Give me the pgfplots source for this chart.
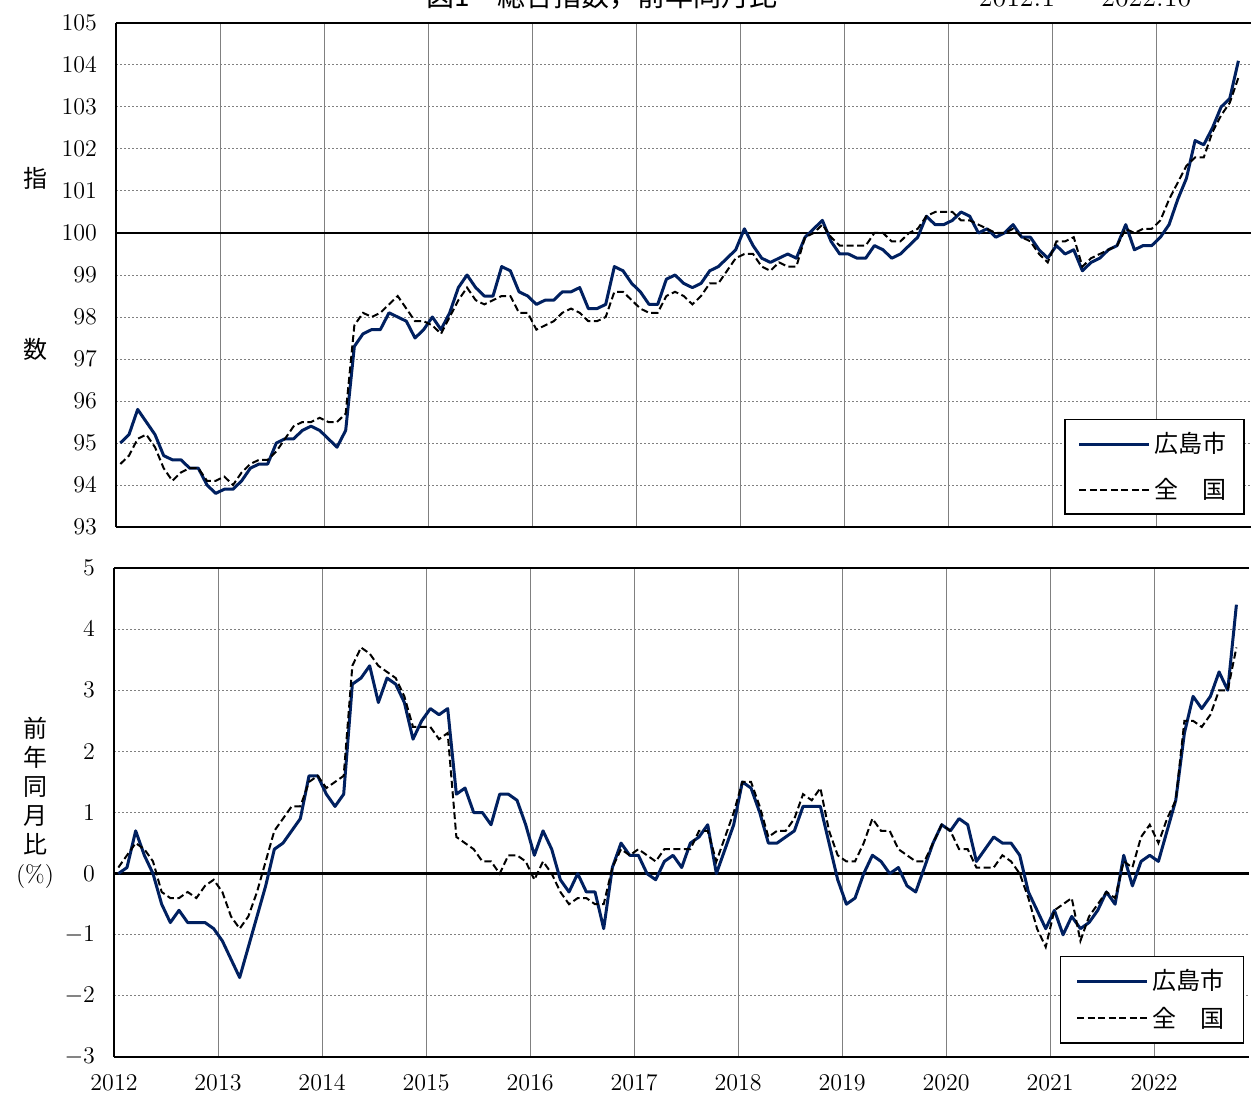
\documentclass[border=0pt]{standalone}
\usepackage{fontspec}
\usepackage{pgfplots}
\usepackage{pgfplotstable}
\pgfplotsset{compat=1.18}
\newfontfamily\jp{Noto Sans CJK JP}
\definecolor{hiro}{HTML}{002060}

% m: month index from 2012.1; hiI/jpI: index (2020=100); hiY/jpY: yoy %
\pgfplotstableread{
m hiI jpI hiY jpY
0 95.0 94.5 0.0 0.1
1 95.2 94.7 0.1 0.3
2 95.8 95.1 0.7 0.5
3 95.5 95.2 0.3 0.4
4 95.2 94.9 0.0 0.2
5 94.7 94.4 -0.5 -0.3
6 94.6 94.1 -0.8 -0.4
7 94.6 94.3 -0.6 -0.4
8 94.4 94.4 -0.8 -0.3
9 94.4 94.4 -0.8 -0.4
10 94.0 94.1 -0.8 -0.2
11 93.8 94.1 -0.9 -0.1
12 93.9 94.2 -1.1 -0.3
13 93.9 94.0 -1.4 -0.7
14 94.1 94.3 -1.7 -0.9
15 94.4 94.5 -1.2 -0.7
16 94.5 94.6 -0.7 -0.3
17 94.5 94.6 -0.2 0.2
18 95.0 94.8 0.4 0.7
19 95.1 95.1 0.5 0.9
20 95.1 95.4 0.7 1.1
21 95.3 95.5 0.9 1.1
22 95.4 95.5 1.6 1.5
23 95.3 95.6 1.6 1.6
24 95.1 95.5 1.3 1.4
25 94.9 95.5 1.1 1.5
26 95.3 95.7 1.3 1.6
27 97.3 97.8 3.1 3.4
28 97.6 98.1 3.2 3.7
29 97.7 98.0 3.4 3.6
30 97.7 98.1 2.8 3.4
31 98.1 98.3 3.2 3.3
32 98.0 98.5 3.1 3.2
33 97.9 98.2 2.8 2.9
34 97.5 97.9 2.2 2.4
35 97.7 97.9 2.5 2.4
36 98.0 97.8 2.7 2.4
37 97.7 97.6 2.6 2.2
38 98.1 98.0 2.7 2.3
39 98.7 98.4 1.3 0.6
40 99.0 98.7 1.4 0.5
41 98.7 98.4 1.0 0.4
42 98.5 98.3 1.0 0.2
43 98.5 98.4 0.8 0.2
44 99.2 98.5 1.3 0.0
45 99.1 98.5 1.3 0.3
46 98.6 98.1 1.2 0.3
47 98.5 98.1 0.8 0.2
48 98.3 97.7 0.3 -0.1
49 98.4 97.8 0.7 0.2
50 98.4 97.9 0.4 0.0
51 98.6 98.1 -0.1 -0.3
52 98.6 98.2 -0.3 -0.5
53 98.7 98.1 0.0 -0.4
54 98.2 97.9 -0.3 -0.4
55 98.2 97.9 -0.3 -0.5
56 98.3 98.0 -0.9 -0.5
57 99.2 98.6 0.1 0.1
58 99.1 98.6 0.5 0.4
59 98.8 98.4 0.3 0.3
60 98.6 98.2 0.3 0.4
61 98.3 98.1 0.0 0.3
62 98.3 98.1 -0.1 0.2
63 98.9 98.5 0.2 0.4
64 99.0 98.6 0.3 0.4
65 98.8 98.5 0.1 0.4
66 98.7 98.3 0.5 0.4
67 98.8 98.5 0.6 0.7
68 99.1 98.8 0.8 0.7
69 99.2 98.8 0.0 0.2
70 99.4 99.1 0.4 0.6
71 99.6 99.4 0.8 1.0
72 100.1 99.5 1.5 1.5
73 99.7 99.5 1.4 1.5
74 99.4 99.2 1.0 1.1
75 99.3 99.1 0.5 0.6
76 99.4 99.3 0.5 0.7
77 99.5 99.2 0.6 0.7
78 99.4 99.2 0.7 0.9
79 99.9 99.9 1.1 1.3
80 100.1 100.0 1.1 1.2
81 100.3 100.2 1.1 1.4
82 99.8 99.9 0.5 0.7
83 99.5 99.7 -0.1 0.3
84 99.5 99.7 -0.5 0.2
85 99.4 99.7 -0.4 0.2
86 99.4 99.7 0.0 0.5
87 99.7 100.0 0.3 0.9
88 99.6 100.0 0.2 0.7
89 99.4 99.8 0.0 0.7
90 99.5 99.8 0.1 0.4
91 99.7 100.0 -0.2 0.3
92 99.9 100.1 -0.3 0.2
93 100.4 100.4 0.1 0.2
94 100.2 100.5 0.5 0.5
95 100.2 100.5 0.8 0.8
96 100.3 100.5 0.7 0.7
97 100.5 100.3 0.9 0.4
98 100.4 100.3 0.8 0.4
99 100.0 100.2 0.2 0.1
100 100.1 100.1 0.4 0.1
101 99.9 100.0 0.6 0.1
102 100.0 100.0 0.5 0.3
103 100.2 100.1 0.5 0.2
104 99.9 99.9 0.3 0.0
105 99.9 99.8 -0.3 -0.4
106 99.6 99.5 -0.6 -0.9
107 99.4 99.3 -0.9 -1.2
108 99.7 99.8 -0.6 -0.6
109 99.5 99.8 -1.0 -0.5
110 99.6 99.9 -0.7 -0.4
111 99.1 99.2 -0.9 -1.1
112 99.3 99.4 -0.8 -0.7
113 99.4 99.5 -0.6 -0.5
114 99.6 99.6 -0.3 -0.3
115 99.7 99.7 -0.5 -0.4
116 100.2 100.1 0.3 0.2
117 99.6 100.0 -0.2 0.1
118 99.7 100.1 0.2 0.6
119 99.7 100.1 0.3 0.8
120 99.9 100.3 0.2 0.5
121 100.2 100.8 0.7 0.9
122 100.8 101.2 1.2 1.2
123 101.3 101.6 2.3 2.5
124 102.2 101.8 2.9 2.5
125 102.1 101.8 2.7 2.4
126 102.5 102.4 2.9 2.6
127 103.0 102.8 3.3 3.0
128 103.2 103.1 3.0 3.0
129 104.1 103.7 4.4 3.7
}\cpi

\pgfplotsset{
  panel/.style={
    scale only axis, width=567.7pt,
    xmin=0, xmax=131,
    axis x line*=box, axis y line*=left,
    x axis line style={-}, y axis line style={-},
    axis line style={line width=1.2pt},
    xtick={0,12,...,120},
    major tick length=0pt,
    grid=major,
    major x grid style={gray, line width=0.5pt},
    major y grid style={gray, line width=0.5pt, dash pattern=on 1pt off 1pt},
    tick label style={font=\fontsize{12}{14}\selectfont},
    yticklabel style={xshift=-6pt},
    legend cell align=left,
    legend image code/.code={\draw[##1] (0pt,0pt) -- (35pt,0pt);},
    legend style={draw=black, line width=0.8pt, fill=white,
      font=\jp\fontsize{12}{14}\selectfont, row sep=7pt,
      inner xsep=6.5pt, inner ysep=4.5pt},
  },
  hi/.style={draw=hiro, line width=1.5pt, line join=round, no marks},
  jpn/.style={draw=black, line width=1pt, dash pattern=on 3.5pt off 1.75pt, no marks},
}

\begin{document}
\begin{tikzpicture}
\begin{axis}[panel,
  at={(58pt,283.5pt)}, anchor=south west, height=252pt,
  ymin=93, ymax=105, ytick={93,...,105},
  xticklabels={},
  extra y ticks={100}, extra y tick labels={},
  extra y tick style={major y grid style={black, line width=1.2pt, solid}},
  legend style={at={(0.994,0.024)}, anchor=south east},
]
\addplot[hi] table[x expr=\coordindex+0.5, y=hiI] {\cpi};
\addplot[jpn] table[x expr=\coordindex+0.5, y=jpI] {\cpi};
\legend{広島市, 全　国}
\end{axis}

\begin{axis}[panel,
  at={(57pt,18.5pt)}, anchor=south west, height=244.5pt,
  ymin=-3, ymax=5, ytick={-3,...,5},
  xticklabels={2012,2013,2014,2015,2016,2017,2018,2019,2020,2021,2022},
  xticklabel style={yshift=-5pt},
  extra y ticks={0}, extra y tick labels={},
  extra y tick style={major y grid style={black, line width=1.2pt, solid}},
  legend style={at={(0.9956,0.027)}, anchor=south east,
    row sep=3pt, inner xsep=7.5pt},
]
\addplot[hi] table[x expr=\coordindex+0.5, y=hiY] {\cpi};
\addplot[jpn] table[x expr=\coordindex+0.5, y=jpY] {\cpi};
\legend{広島市, 全　国}
\end{axis}

% axis titles
\node[font=\jp\fontsize{12}{14}\selectfont] at (17.5pt,458pt) {指};
\node[font=\jp\fontsize{12}{14}\selectfont] at (17.5pt,372.5pt) {数};
\node[font=\jp\fontsize{12}{14.5}\selectfont, align=center] at (17.5pt,145.75pt)
  {前\\年\\同\\月\\比\\{\normalfont(\%)}};

% chart title, cut by the top edge as in the original
\node[anchor=base, font=\jp\fontsize{14}{16}\selectfont] at (301pt,543.5pt) {図1　総合指数，前年同月比};
\node[anchor=base, font=\fontsize{14}{16}\selectfont] at (542.5pt,543.5pt) {2012.1 {\jp ～} 2022.10};

\pgfresetboundingbox
\path[use as bounding box] (0,0) rectangle (625.5pt,547pt);
\end{tikzpicture}
\end{document}
